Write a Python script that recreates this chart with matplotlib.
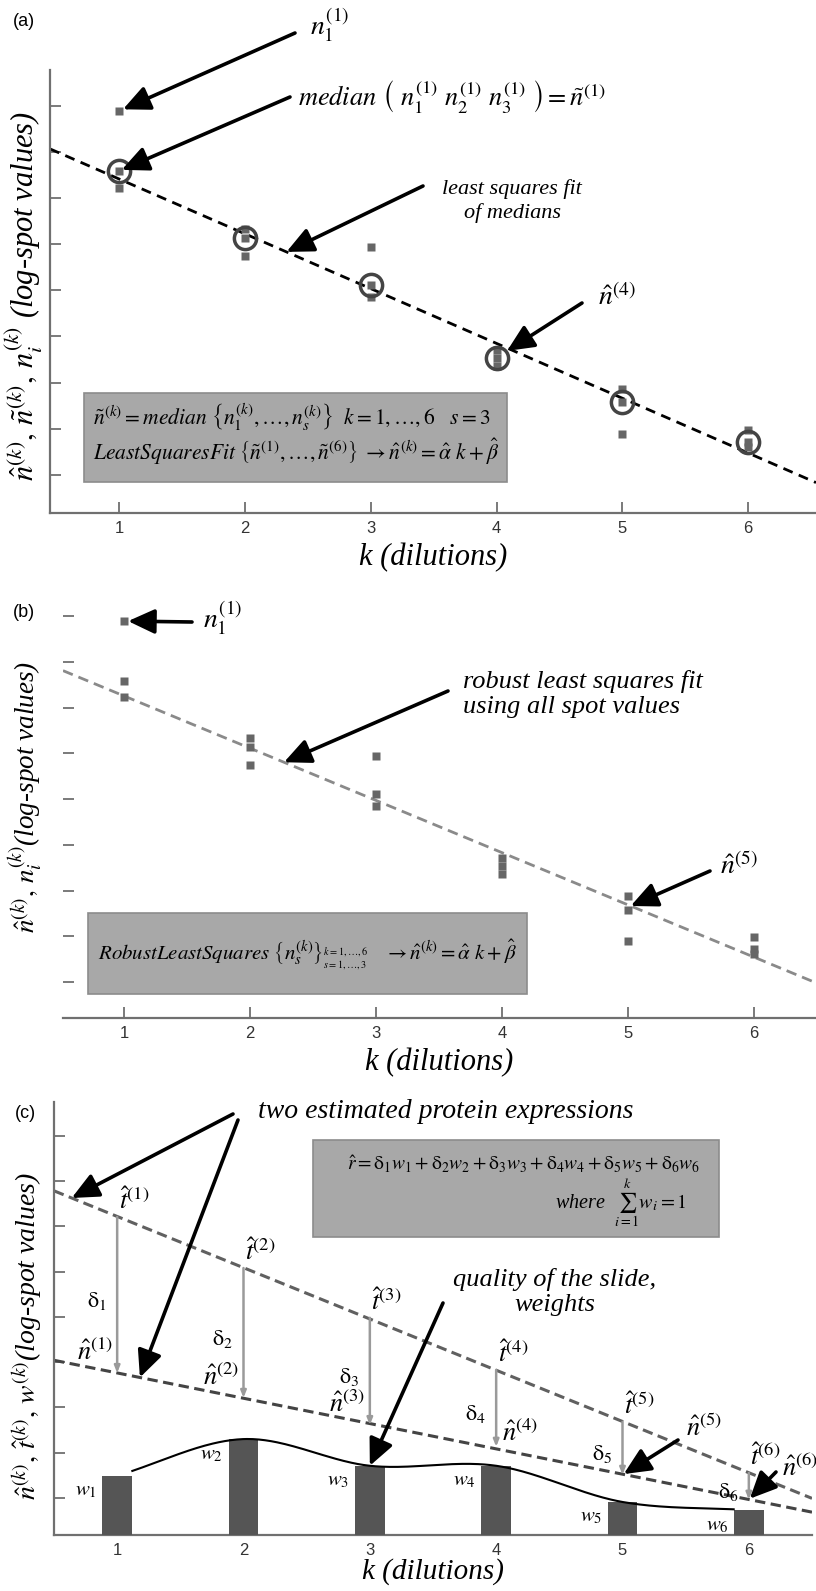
import numpy as np
import matplotlib.pyplot as plt
from matplotlib.patches import Rectangle

plt.rcParams['font.family'] = ['Liberation Serif', 'DejaVu Serif']
plt.rcParams['mathtext.fontset'] = 'stix'

# ---- data (log-spot units, arbitrary scale) ----
dilutions = np.array([1, 2, 3, 4, 5, 6])
tick_labels = ['1', '2', '3', '4', '5', '6']

# three replicate spots per dilution (s = 1..3)
spot_rep1 = np.array([8.89, 6.33, 5.93, 3.70, 2.87, 1.98])
spot_rep2 = np.array([7.59, 6.13, 5.11, 3.54, 2.57, 1.72])
spot_rep3 = np.array([7.22, 5.74, 4.85, 3.36, 1.89, 1.61])

# panel (c): two estimated expressions and slide-quality weights
t_hat = np.array([7.21, 6.08, 4.98, 3.83, 2.68, 1.55])
n_hat = np.array([3.76, 3.21, 2.61, 2.13, 1.51, 0.96])
weights = np.array([1.31, 2.12, 1.53, 1.53, 0.73, 0.55])

spots = np.vstack([spot_rep1, spot_rep2, spot_rep3])
medians = np.median(spots, axis=0)

# least squares fit of medians
ls_coef = np.polyfit(dilutions, medians, 1)


# robust (bisquare) least squares using all spot values
def robust_fit(x, y, n_iter=30):
    A = np.vstack([x, np.ones_like(x)]).T
    w = np.ones_like(y)
    for _ in range(n_iter):
        sw = np.sqrt(w)
        coef = np.linalg.lstsq(A * sw[:, None], y * sw, rcond=None)[0]
        r = y - A @ coef
        s = np.median(np.abs(r)) / 0.6745
        u = r / (4.685 * s)
        w = np.where(np.abs(u) < 1, (1 - u ** 2) ** 2, 0.0)
    return coef


x_all = np.tile(dilutions, 3).astype(float)
rob_coef = robust_fit(x_all, spots.ravel())
t_coef = np.polyfit(dilutions, t_hat, 1)
n_coef = np.polyfit(dilutions, n_hat, 1)


def hermite(xs, ys, xq):
    # smooth curve through the weight bar tops
    xs = np.asarray(xs, float)
    ys = np.asarray(ys, float)
    m = np.gradient(ys, xs)
    i = np.clip(np.searchsorted(xs, xq) - 1, 0, len(xs) - 2)
    h = xs[i + 1] - xs[i]
    t = (xq - xs[i]) / h
    return ((2 * t**3 - 3 * t**2 + 1) * ys[i] + (t**3 - 2 * t**2 + t) * h * m[i]
            + (-2 * t**3 + 3 * t**2) * ys[i + 1] + (t**3 - t**2) * h * m[i + 1])


# ---- figure ----
W, H = 816, 1591
fig = plt.figure(figsize=(W / 100, H / 100), dpi=100)


def px(x, y):
    return (x / W, 1 - y / H)


def make_axes(left, top, right, bottom):
    return fig.add_axes([left / W, 1 - bottom / H, (right - left) / W, (bottom - top) / H])


def style_axes(ax, xlim, ylim, left_spine=True, xlabel_pad=5, xlabel_size=22):
    ax.set_xlim(xlim)
    ax.set_ylim(ylim)
    ax.patch.set_alpha(0)
    for s in ['top', 'right']:
        ax.spines[s].set_visible(False)
    ax.spines['left'].set_visible(left_spine)
    for s in ['left', 'bottom']:
        ax.spines[s].set_color('#707070')
        ax.spines[s].set_linewidth(1.6)
    ax.set_xticks(dilutions)
    ax.set_xticklabels(tick_labels, fontfamily='Liberation Sans', fontsize=12, color='#333333')
    ax.set_yticks(np.arange(1, 10))
    ax.set_yticklabels([])
    ax.tick_params(direction='in', length=8, width=1.3, color='#707070')
    ax.tick_params(axis='x', pad=6)
    ax.set_xlabel('k (dilutions)', fontsize=xlabel_size, style='italic', labelpad=xlabel_pad)


ARROW = dict(arrowstyle='-|>,head_length=0.65,head_width=0.3', color='black',
             lw=2.6, mutation_scale=25, shrinkA=0, shrinkB=0)


def arrow(ax, head, tail_px, shrink=0, **kw):
    props = dict(ARROW, shrinkB=shrink)
    props.update(kw)
    ax.annotate('', xy=head, xycoords='data', xytext=px(*tail_px),
                textcoords='figure fraction', arrowprops=props, annotation_clip=False)


def label(text, x, y, size, ha='left', va='center', **kw):
    fig.text(x / W, 1 - y / H, text, fontsize=size, ha=ha, va=va, style='italic', **kw)


def box(left, top, right, bottom):
    fig.add_artist(Rectangle(px(left, bottom), (right - left) / W, (bottom - top) / H,
                             transform=fig.transFigure, facecolor='#a8a8a8',
                             edgecolor='#8c8c8c', lw=1.2))


def panel_tag(text, x, y):
    fig.text(x / W, 1 - y / H, text, fontsize=13, fontfamily='Liberation Sans',
             ha='left', va='center')


# ================= (a) =================
ax_a = make_axes(50, 70, 816, 513)
style_axes(ax_a, (0.45, 6.54), (0.17, 9.78))
xx = np.array(ax_a.get_xlim())
ax_a.plot(xx, np.polyval(ls_coef, xx), color='black', lw=2, ls=(0, (3.6, 2.4)))
for rep in spots:
    ax_a.plot(dilutions, rep, 's', ms=5.5, color='#666666', mec='none')
ax_a.plot(dilutions, medians, 'o', ms=16, mfc='none', mec='#444444', mew=2.5)
ax_a.set_ylabel(r'$\hat{n}^{(k)},\,\tilde{n}^{(k)},\,n_i^{(k)}$ (log-spot values)',
                fontsize=22, style='italic')
ax_a.yaxis.set_label_coords(-0.006, 0.49)
panel_tag('(a)', 13, 22)

label(r'$n_1^{(1)}$', 310, 25, 20)
arrow(ax_a, (dilutions[0], spot_rep1[0]), (295, 33), shrink=3)
label(r'$median\ \left(\ n_1^{(1)}\ n_2^{(1)}\ n_3^{(1)}\ \right) = \tilde{n}^{(1)}$', 298, 97, 19)
arrow(ax_a, (dilutions[0], medians[0]), (290, 97), shrink=2)
label('least squares fit\nof medians', 512, 201, 16, ha='center', linespacing=1.3)
arrow(ax_a, (2.33, np.polyval(ls_coef, 2.33)), (423, 186))
label(r'$\hat{n}^{(4)}$', 598, 297, 20)
arrow(ax_a, (dilutions[3], medians[3]), (582, 303), shrink=9)

box(84, 393, 507, 482)
label(r'$\tilde{n}^{(k)} = median\ \left\{n_1^{(k)},\ldots,n_s^{(k)}\right\}\ \ k=1,\ldots,6\quad s=3$',
      93, 417, 15.5)
label(r'$LeastSquaresFit\ \left\{\tilde{n}^{(1)},\ldots,\tilde{n}^{(6)}\right\}\ \rightarrow \hat{n}^{(k)} = \hat{\alpha}\ k+\hat{\beta}$',
      93, 452, 15.5)

# ================= (b) =================
ax_b = make_axes(63, 600, 816, 1018)
style_axes(ax_b, (0.517, 6.49), (0.213, 9.35), left_spine=False)
xx = np.array(ax_b.get_xlim())
ax_b.plot(xx, np.polyval(rob_coef, xx), color='#8a8a8a', lw=2, ls=(0, (3.8, 2.2)))
for rep in spots:
    ax_b.plot(dilutions, rep, 's', ms=5.5, color='#666666', mec='none')
ax_b.set_ylabel(r'$\hat{n}^{(k)},\,n_i^{(k)}$(log-spot values)', fontsize=19.5, style='italic')
ax_b.yaxis.set_label_coords(-0.024, 0.529)
panel_tag('(b)', 13, 612)

label(r'$n_1^{(1)}$', 203, 618, 20)
arrow(ax_b, (dilutions[0], spot_rep1[0]), (192, 622), shrink=3)
label('robust least squares fit\nusing all spot values', 463, 694, 19, linespacing=1.12)
arrow(ax_b, (2.27, np.polyval(rob_coef, 2.27)), (448, 691))
label(r'$\hat{n}^{(5)}$', 720, 866, 20)
arrow(ax_b, (5.02, np.polyval(rob_coef, 5.02)), (710, 871))

box(88, 913, 527, 994)
label(r'$RobustLeastSquares\ \left\{n_s^{(k)}\right\}_{\genfrac{}{}{0}{}{k=1,\ldots,6}{s=1,\ldots,3}}\quad \rightarrow \hat{n}^{(k)} = \hat{\alpha}\ k+\hat{\beta}$',
      98, 955, 15)

# ================= (c) =================
c_floor = 0.18
ax_c = make_axes(54, 1102, 812, 1535)
style_axes(ax_c, (0.5, 6.5), (c_floor, 9.75), xlabel_pad=0, xlabel_size=21)
xx = np.array(ax_c.get_xlim())
ax_c.plot(xx, np.polyval(t_coef, xx), color='#606060', lw=2.2, ls=(0, (3.4, 1.8)))
ax_c.plot(xx, np.polyval(n_coef, xx), color='#444444', lw=2.2, ls=(0, (3.4, 1.8)))
ax_c.bar(dilutions, weights, width=0.235, bottom=c_floor, color='#555555', zorder=3)
xs = np.linspace(1.12, 5.88, 300)
ax_c.plot(xs, hermite(dilutions, weights + c_floor, xs), color='black', lw=1.5, zorder=4)

for i, k in enumerate(dilutions):
    ax_c.annotate('', xy=(k, n_hat[i]), xytext=(k, t_hat[i]),
                  arrowprops=dict(arrowstyle='-|>,head_length=0.5,head_width=0.2',
                                  color='#9a9a9a', lw=1.8, mutation_scale=8,
                                  shrinkA=0, shrinkB=0))
    ax_c.annotate(r'$\hat{t}^{(%d)}$' % k, xy=(k, t_hat[i]), xytext=(12, 12),
                  textcoords='offset points', fontsize=19, ha='center', va='center')
    ax_c.annotate(r'$\mathrm{\delta}_%d$' % k, xy=(k, (t_hat[i] + n_hat[i]) / 2), xytext=(-15, -4),
                  textcoords='offset points', fontsize=16, ha='center', va='center')
    ax_c.annotate(r'$w_%d$' % k, xy=(k - 0.118, weights[i] + c_floor), xytext=(-12, -11),
                  textcoords='offset points', fontsize=15, ha='center', va='center')
    if k <= 3:
        ax_c.annotate(r'$\hat{n}^{(%d)}$' % k, xy=(k, n_hat[i]), xytext=(-16, 15),
                      textcoords='offset points', fontsize=19, ha='center', va='center')
    elif k == 4:
        ax_c.annotate(r'$\hat{n}^{(%d)}$' % k, xy=(k, n_hat[i]), xytext=(17, 10),
                      textcoords='offset points', fontsize=19, ha='center', va='center')

ax_c.set_ylabel(r'$\hat{n}^{(k)},\,\hat{t}^{(k)},\,w^{(k)}$(log-spot values)', fontsize=20, style='italic')
ax_c.yaxis.set_label_coords(-0.012, 0.46)
panel_tag('(c)', 15, 1113)

label('two estimated protein expressions', 258, 1112, 20)
arrow(ax_c, (0.64, np.polyval(t_coef, 0.64)), (233, 1114))
arrow(ax_c, (1.18, np.polyval(n_coef, 1.18)), (238, 1120))
label('quality of the slide,\nweights', 555, 1292, 19, ha='center', linespacing=1.12)
arrow(ax_c, (dilutions[2], weights[2] + c_floor), (443, 1303))
label(r'$\hat{n}^{(5)}$', 686, 1428, 19)
arrow(ax_c, (dilutions[4], n_hat[4]), (678, 1440), shrink=1)
label(r'$\hat{n}^{(6)}$', 782, 1468, 19)
arrow(ax_c, (dilutions[5], n_hat[5]), (776, 1472), shrink=1)

box(313, 1140, 719, 1237)
label(r'$\hat{r} = \mathrm{\delta}_1 w_1 + \mathrm{\delta}_2 w_2 + \mathrm{\delta}_3 w_3 + \mathrm{\delta}_4 w_4 + \mathrm{\delta}_5 w_5 + \mathrm{\delta}_6 w_6$',
      347, 1164, 14)
label(r'where  $\sum_{i=1}^{k} w_i = 1$', 687, 1203, 14.5, ha='right')

fig.savefig('out.png', dpi=100)
